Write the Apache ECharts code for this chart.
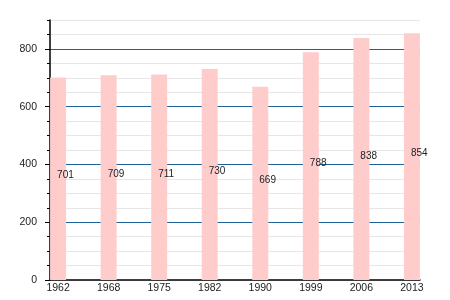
<!DOCTYPE html>
<html>
<head>
<meta charset="utf-8">
<script src="https://cdn.jsdelivr.net/npm/echarts@6/dist/echarts.min.js"></script>
<style>html,body{margin:0;padding:0;background:#fff}#c{width:450px;height:300px}</style>
</head>
<body>
<div id="c"></div>
<script>
var years = ['1962', '1968', '1975', '1982', '1990', '1999', '2006', '2013'];
var population = [701, 709, 711, 730, 669, 788, 838, 854];
var yMajorTicks = [0, 200, 400, 600, 800];

var chart = echarts.init(document.getElementById('c'), null, {renderer: 'canvas'});
var font = 'Liberation Sans, Arial, sans-serif';
var idx = years.map(function (y, i) { return i; });
chart.setOption({
  animation: false,
  backgroundColor: '#fff',
  grid: {left: 50, right: 30, top: 20, bottom: 20, containLabel: false},
  xAxis: {
    type: 'value', min: -0.16, max: years.length - 1 + 0.16,
    axisLine: {show: true, onZero: false, lineStyle: {color: '#000', width: 1.5}},
    axisTick: {show: false},
    splitLine: {show: false},
    axisLabel: {
      customValues: idx, margin: 3, color: '#222', fontSize: 10.5, fontFamily: font,
      formatter: function (v) { return years[Math.round(v)]; }
    }
  },
  yAxis: [{
    type: 'value', min: 0, max: 900, interval: 50, position: 'left',
    axisLine: {show: true, onZero: false, lineStyle: {color: '#000', width: 1.5}},
    axisTick: {show: true, length: 3, lineStyle: {color: '#000'}},
    axisLabel: {show: false},
    splitLine: {show: true, lineStyle: {color: '#e6e6e6', width: 1}}
  }, {
    type: 'value', min: 0, max: 900, interval: 200, position: 'left',
    axisLine: {show: false, onZero: false},
    axisTick: {show: true, length: 5, customValues: yMajorTicks, lineStyle: {color: '#000'}},
    axisLabel: {
      customValues: yMajorTicks, margin: 13, color: '#222', fontSize: 10.5, fontFamily: font
    },
    splitLine: {show: true, showMinLine: false, showMaxLine: true, lineStyle: {color: '#1d6296', width: 1}}
  }],
  series: [{
    type: 'bar',
    barWidth: 16,
    yAxisIndex: 0,
    data: population.map(function (v, i) { return [i, v]; }),
    itemStyle: {color: '#ffcccc'},
    label: {
      show: true, position: ['50%', '50%'], align: 'left', verticalAlign: 'bottom',
      offset: [-1, 2], color: '#222', fontSize: 10, fontFamily: font,
      formatter: function (p) { return p.value[1]; }
    }
  }]
});
</script>
</body>
</html>
